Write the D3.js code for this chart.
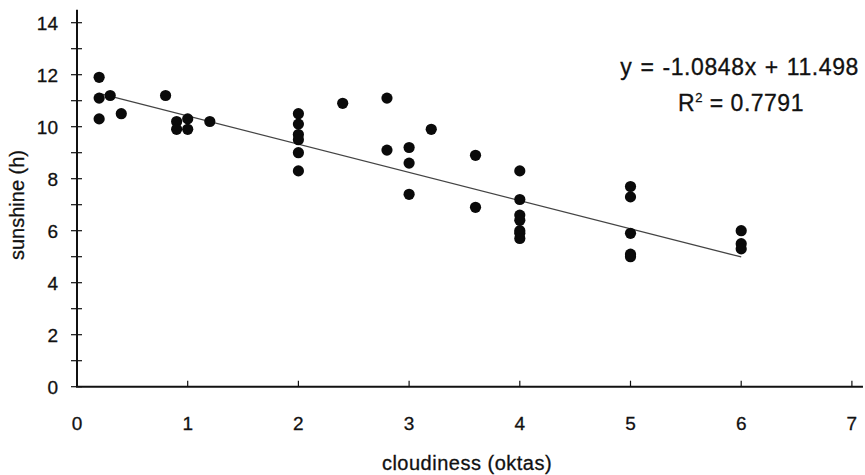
<!DOCTYPE html>
<html>
<head>
<meta charset="utf-8">
<script src="https://cdn.jsdelivr.net/npm/d3@7"></script>
<style>
  body { margin: 0; background: #fff; }
  svg text { font-family: "Liberation Sans", Arial, sans-serif; fill: #111; stroke: #111; stroke-width: 0.3px; }
</style>
</head>
<body>
<svg id="chart"></svg>
<script>
var cloudiness = [0.2, 0.2, 0.2, 0.3, 0.4, 0.8, 0.9, 0.9, 1.0, 1.0, 1.2,
                  2, 2, 2, 2, 2, 2, 2.4, 2.8, 2.8, 3, 3, 3, 3.2, 3.6, 3.6,
                  4, 4, 4, 4, 4, 4, 4, 5, 5, 5, 5, 5, 6, 6, 6];
var sunshine   = [11.9, 11.1, 10.3, 11.2, 10.5, 11.2, 10.2, 9.9, 10.3, 9.9, 10.2,
                  10.5, 10.1, 9.7, 9.5, 9.0, 8.3, 10.9, 11.1, 9.1, 9.2, 8.6, 7.4, 9.9, 8.9, 6.9,
                  8.3, 7.2, 6.6, 6.4, 6.0, 5.9, 5.7, 7.7, 7.3, 5.9, 5.1, 5.0, 6.0, 5.5, 5.3];
var xTicks = [0, 1, 2, 3, 4, 5, 6, 7];
var yTicks = [0, 2, 4, 6, 8, 10, 12, 14];
var yMinor = [1, 3, 5, 7, 9, 11, 13];
var trendSlope = -1.0848, trendIntercept = 11.498;
var equationText = "y = -1.0848x + 11.498";
var r2Text = "0.7791";

var W = 865, H = 475;

var svg = d3.select("#chart").attr("width", W).attr("height", H);

var x = d3.scaleLinear().domain([0, 7.1]).range([77, 77 + 7.1 * 110.7]);
var y = d3.scaleLinear().domain([0, 14.5]).range([386.7, 386.7 - 14.5 * 26]);

var data = cloudiness.map(function(c, i) { return {c: c, s: sunshine[i]}; });

// y axis: ticks crossing the line
var yAxis = svg.append("g").attr("transform", "translate(" + x(0) + ",0)");
yAxis.append("line")
    .attr("y1", y(0)).attr("y2", y(14.5))
    .attr("stroke", "#111").attr("stroke-width", 2);
yAxis.selectAll(".yt")
    .data(yTicks.concat(yMinor))
    .enter().append("line")
    .attr("x1", -6).attr("x2", 5)
    .attr("y1", function(d) { return y(d); })
    .attr("y2", function(d) { return y(d); })
    .attr("stroke", "#111").attr("stroke-width", 1.2);
yAxis.selectAll(".yl")
    .data(yTicks)
    .enter().append("text")
    .attr("x", -19)
    .attr("y", function(d) { return y(d); })
    .attr("dy", "0.36em")
    .attr("text-anchor", "end")
    .style("font-size", "19px")
    .text(function(d) { return d; });

// x axis
var xAxis = svg.append("g").attr("transform", "translate(0," + y(0) + ")");
xAxis.append("line")
    .attr("x1", x(0) - 1).attr("x2", x(7.1))
    .attr("stroke", "#111").attr("stroke-width", 2);
xAxis.selectAll(".xt")
    .data(xTicks.slice(1))
    .enter().append("line")
    .attr("x1", function(d) { return x(d); })
    .attr("x2", function(d) { return x(d); })
    .attr("y1", 0).attr("y2", -6)
    .attr("stroke", "#111").attr("stroke-width", 1.2);
xAxis.selectAll(".xl")
    .data(xTicks)
    .enter().append("text")
    .attr("x", function(d) { return x(d); })
    .attr("y", 43)
    .attr("text-anchor", "middle")
    .style("font-size", "19px")
    .text(function(d) { return d; });

// axis titles
svg.append("text")
    .attr("x", 467).attr("y", 470)
    .attr("text-anchor", "middle")
    .style("font-size", "20px")
    .style("letter-spacing", "0.5px")
    .text("cloudiness (oktas)");

svg.append("text")
    .attr("transform", "translate(24," + 205 + ") rotate(-90)")
    .attr("text-anchor", "middle")
    .style("font-size", "20px")
    .text("sunshine (h)");

// trend line
var xr = d3.extent(cloudiness);
svg.append("line")
    .attr("x1", x(xr[0])).attr("y1", y(trendSlope * xr[0] + trendIntercept))
    .attr("x2", x(xr[1])).attr("y2", y(trendSlope * xr[1] + trendIntercept))
    .attr("stroke", "#444").attr("stroke-width", 1.3);

// points
svg.selectAll(".dot")
    .data(data)
    .enter().append("circle")
    .attr("class", "dot")
    .attr("cx", function(d) { return x(d.c); })
    .attr("cy", function(d) { return y(d.s); })
    .attr("r", 5.6)
    .attr("fill", "#0a0a0a");

// equation
svg.append("text")
    .attr("x", 859).attr("y", 75)
    .attr("text-anchor", "end")
    .style("font-size", "23px")
    .style("letter-spacing", "0.6px")
    .style("word-spacing", "1px")
    .text(equationText);

var r2 = svg.append("text")
    .attr("x", 741).attr("y", 111)
    .attr("text-anchor", "middle")
    .style("font-size", "23px")
    .style("letter-spacing", "0.5px");
r2.append("tspan").text("R");
r2.append("tspan").attr("dy", -9).style("font-size", "13px").text("2");
r2.append("tspan").attr("dy", 9).text(" = " + r2Text);
</script>
</body>
</html>
